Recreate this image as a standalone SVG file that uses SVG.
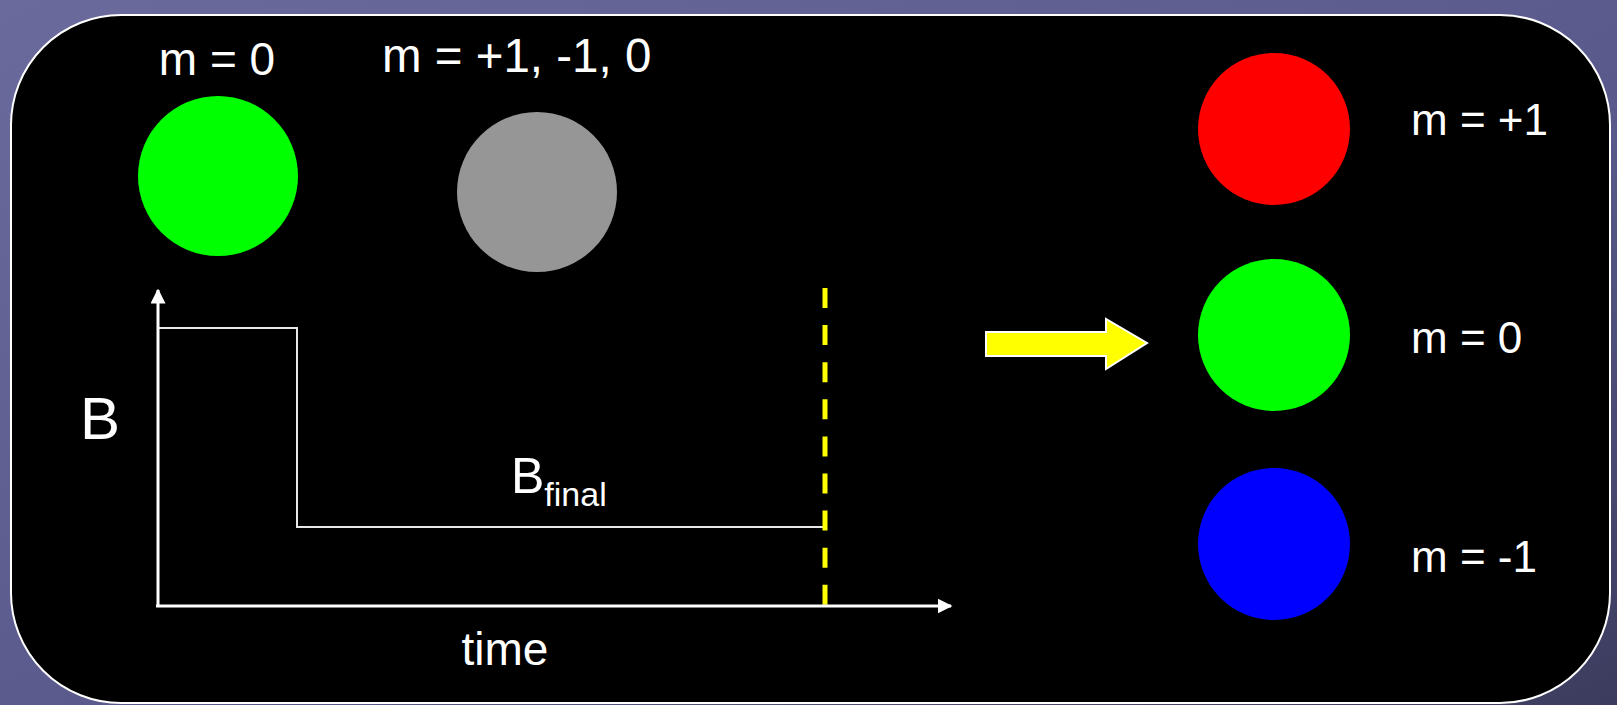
<svg xmlns="http://www.w3.org/2000/svg" width="1617" height="705" viewBox="0 0 1617 705">
  <defs>
    <linearGradient id="bg" x1="0" y1="0" x2="1" y2="1">
      <stop offset="0" stop-color="#6a6a9c"/>
      <stop offset="0.6" stop-color="#58588a"/>
      <stop offset="1" stop-color="#3c3c5e"/>
    </linearGradient>
    <marker id="ah" viewBox="0 0 10 10" refX="9" refY="5" markerWidth="5" markerHeight="5" orient="auto" markerUnits="strokeWidth">
      <path d="M0,0 L10,5 L0,10 Z" fill="#ffffff"/>
    </marker>
    <style>
      .lbl { font-family: "Liberation Sans", Arial, sans-serif; fill: #ffffff; }
      .ax { stroke: #ffffff; stroke-width: 3; fill: none; }
      .step { stroke: #e8e8e8; stroke-width: 2; fill: none; }
    </style>
  </defs>
  <rect x="0" y="0" width="1617" height="705" fill="url(#bg)"/>
  <rect id="panel" x="11" y="15" width="1599" height="688" rx="110" ry="110" fill="#000000" stroke="#ffffff" stroke-width="2"/>

  <g id="top-m0">
    <text class="lbl" x="217" y="75" font-size="46" text-anchor="middle">m = 0</text>
    <circle cx="218" cy="176" r="80" fill="#00ff00"/>
  </g>
  <g id="top-mixed">
    <text class="lbl" x="382" y="72" font-size="47.5">m = +1, -1, 0</text>
    <circle cx="537" cy="192" r="80" fill="#969696"/>
  </g>

  <g id="graph">
    <text class="lbl" x="80" y="439" font-size="60">B</text>
    <text class="lbl" x="505" y="665" font-size="46" text-anchor="middle">time</text>
    <text class="lbl" x="511" y="493" font-size="50">B<tspan font-size="34" dy="13">final</tspan></text>
    <polyline class="step" points="158,328 297,328 297,527 825,527"/>
    <line x1="825" y1="288" x2="825" y2="606" stroke="#ffff00" stroke-width="5" stroke-dasharray="20,17.1"/>
  </g>

  <g id="connectors">
    <line class="ax" x1="158" y1="607" x2="158" y2="290" marker-end="url(#ah)"/>
    <line class="ax" x1="156" y1="606" x2="951" y2="606" marker-end="url(#ah)"/>
    <polygon points="986,332 1106,332 1106,319 1147,343 1106,369 1106,356 986,356" fill="#ffff00" stroke="#ffffff" stroke-width="2"/>
  </g>

  <g id="state-plus1">
    <circle cx="1274" cy="129" r="76" fill="#ff0000"/>
    <text class="lbl" x="1411" y="135" font-size="44">m = +1</text>
  </g>
  <g id="state-0">
    <circle cx="1274" cy="335" r="76" fill="#00ff00"/>
    <text class="lbl" x="1411" y="353" font-size="44">m = 0</text>
  </g>
  <g id="state-minus1">
    <circle cx="1274" cy="544" r="76" fill="#0000ff"/>
    <text class="lbl" x="1411" y="572" font-size="44">m = -1</text>
  </g>
</svg>
